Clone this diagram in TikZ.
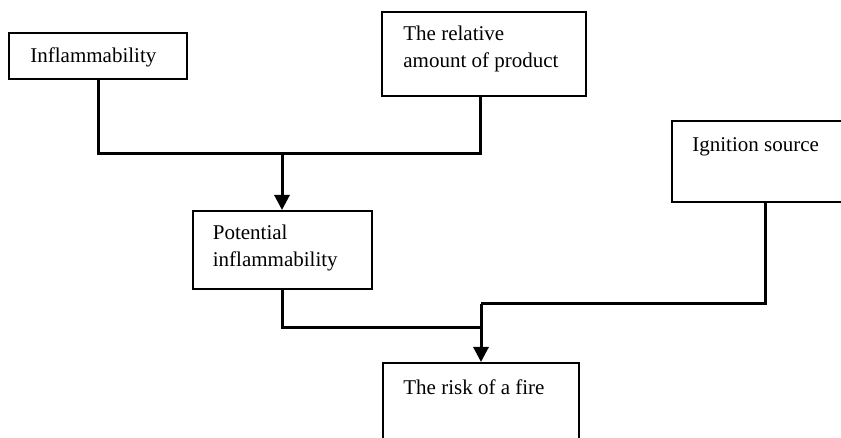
\documentclass[tikz,border=0pt]{standalone}
\usepackage{fontspec}
\setmainfont{Liberation Serif}
\usepackage{tikz}
\usetikzlibrary{arrows.meta}

\begin{document}
\begin{tikzpicture}[x=0.5pt,y=-0.5pt,
        box/.style={draw, rectangle, line width=1pt, inner sep=0pt},
        txt/.style={anchor=north west, align=left, inner sep=0pt,
            font=\fontsize{10.5}{13.25}\selectfont},
        link/.style={line width=1.5pt},
        arr/.style={line width=1.5pt, -{Triangle[length=7.5pt,width=7.5pt]}}]
    \useasboundingbox (0,0) rectangle (841,438);

    % boxes
    \node[box, minimum width=89pt, minimum height=23pt] (infl) at (98,56) {};
    \node[box, minimum width=102pt, minimum height=42pt] (rel) at (484,54) {};
    \node[box, minimum width=89.5pt, minimum height=39pt] (pot) at (282,250) {};
    \node[box, minimum width=93pt, minimum height=40.5pt] (ign) at (765,161.5) {};
    \node[box, minimum width=98pt, minimum height=40.5pt] (risk) at (481,403.5) {};

    % texts
    \node[txt] (infl-t) at ([shift={(22,15)}]infl.north west) {Inflammability};
    \node[txt] (rel-t) at ([shift={(22,15)}]rel.north west) {The relative\\amount of product};
    \node[txt] (pot-t) at ([shift={(21,15)}]pot.north west) {Potential\\inflammability};
    \node[txt] (ign-t) at ([shift={(21,17)}]ign.north west) {Ignition source};
    \node[txt] (risk-t) at ([shift={(21,17)}]risk.north west) {The risk of a fire};

    % connectors
    \coordinate (j1) at (282,154);
    \coordinate (j2) at (481,328);
    \coordinate (j3) at (481,304);
    \draw[link] (infl.south) |- (j1) -| ([xshift=-2pt]rel.south);
    \draw[arr] (j1) -- (pot.north);
    \draw[link] (pot.south) |- (j2);
    \draw[link] (ign.south) |- (j3);
    \draw[arr] (j3) -- (risk.north);
\end{tikzpicture}
\end{document}
